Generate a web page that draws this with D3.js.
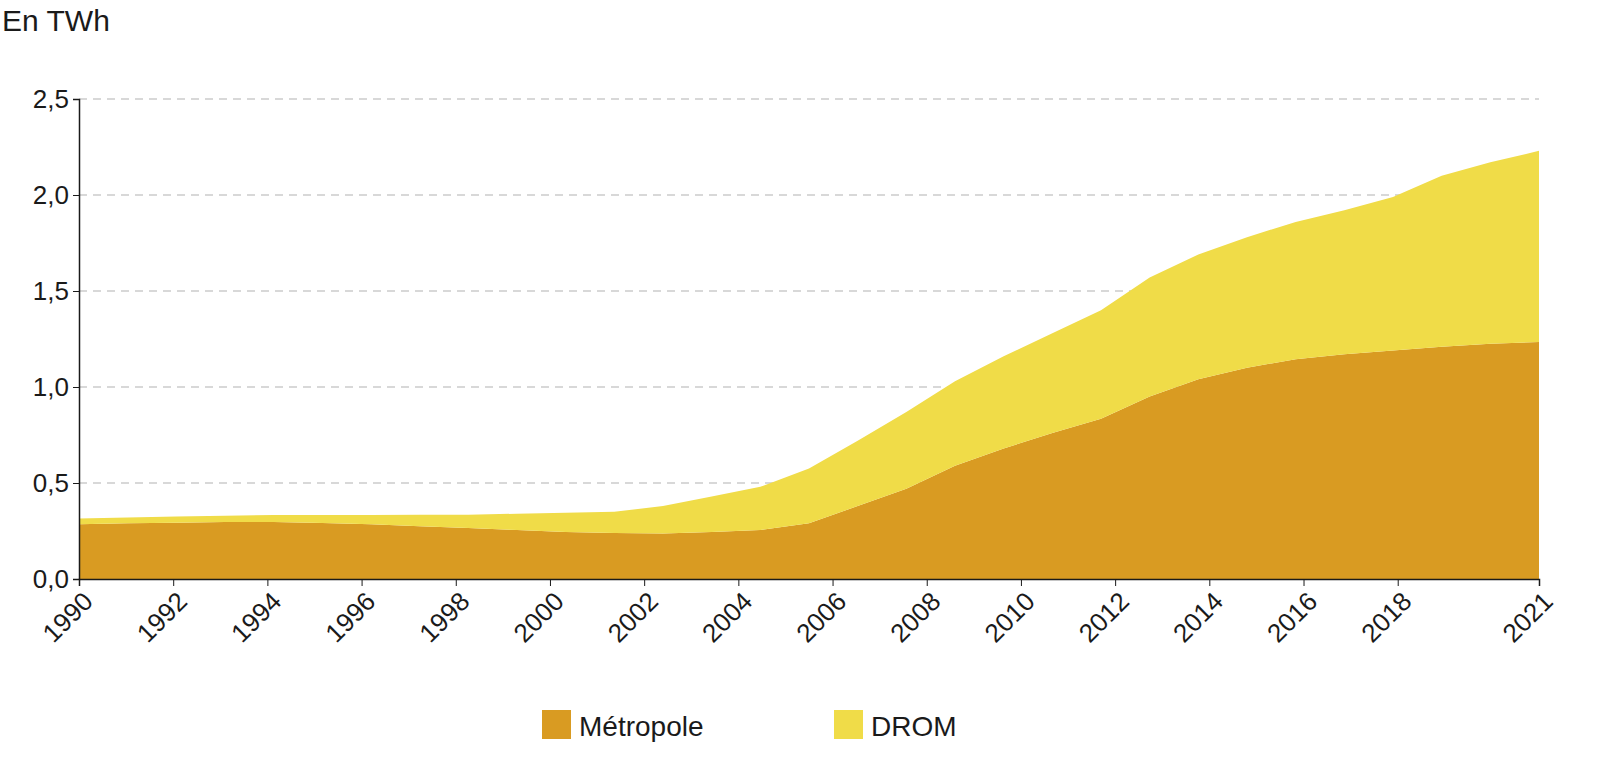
<!DOCTYPE html><html><head><meta charset="utf-8">
<script src="https://cdn.jsdelivr.net/npm/d3@7"></script>
<style>body{margin:0;background:#fff}text{font-family:"Liberation Sans",Arial,sans-serif;fill:#1a1a1a}</style></head><body>
<svg id="c" width="1600" height="781"></svg>
<script>
const pointIndex = d3.range(31);
const metropole = [0.285,0.29,0.293,0.297,0.297,0.292,0.285,0.275,0.265,0.255,0.245,0.24,0.237,0.245,0.255,0.29,0.38,0.47,0.59,0.68,0.76,0.835,0.95,1.04,1.10,1.145,1.17,1.19,1.21,1.225,1.235];
const drom = [0.03,0.03,0.032,0.033,0.036,0.041,0.048,0.06,0.07,0.085,0.10,0.11,0.143,0.185,0.225,0.285,0.34,0.40,0.44,0.48,0.52,0.565,0.62,0.65,0.68,0.715,0.75,0.80,0.89,0.945,0.995];
const yearTicks = [1990,1992,1994,1996,1998,2000,2002,2004,2006,2008,2010,2012,2014,2016,2018,2021];
const yTicks = [0,0.5,1,1.5,2,2.5];
const fmt = v => d3.format(".1f")(v).replace(".", ",");

const svg = d3.select("#c");
const L=79,R=1539,T=99,B=579;
const xi = d3.scaleLinear().domain([0,30]).range([L,R]);
const xy = d3.scaleLinear().domain([1990,2021]).range([L,R]);
const y = d3.scaleLinear().domain([0,2.5]).range([B,T]);

svg.append("g").selectAll("line").data(yTicks.slice(1)).join("line")
 .attr("x1",L).attr("x2",R).attr("y1",d=>y(d)).attr("y2",d=>y(d))
 .attr("stroke","#cccccc").attr("stroke-width",1.5).attr("stroke-dasharray","8,6");

const rows = pointIndex.map(i=>({i,m:metropole[i],d:drom[i]}));
const stack = d3.stack().keys(["m","d"])(rows);
const colors = {m:"#D99B22",d:"#F0DC48"};
const area = d3.area().x(p=>xi(p.data.i)).y0(p=>y(p[0])).y1(p=>y(p[1]));
svg.append("g").selectAll("path").data(stack).join("path")
 .attr("d",area).attr("fill",s=>colors[s.key]);

const ya = svg.append("g").attr("transform",`translate(${L},0)`)
 .call(d3.axisLeft(y).tickValues(yTicks).tickFormat(fmt).tickSize(6));
ya.select(".domain").attr("stroke","#1a1a1a").attr("stroke-width",1.5);
ya.selectAll("line").attr("stroke","#1a1a1a");
ya.selectAll("text").style("font-size","26px").attr("x",-10);

const xa = svg.append("g").attr("transform",`translate(0,${B})`)
 .call(d3.axisBottom(xy).tickValues(yearTicks).tickFormat(d3.format("d")).tickSize(7));
xa.select(".domain").attr("stroke","#1a1a1a").attr("stroke-width",1.5);
xa.selectAll("line").attr("stroke","#1a1a1a");
xa.selectAll("text").style("font-size","26px").attr("text-anchor","end")
 .attr("dy",0).attr("y",0).attr("transform","translate(15,24) rotate(-45)");

svg.append("text").attr("x",2).attr("y",31).text("En TWh").style("font-size","30px");

const leg=[["Métropole","m",542],["DROM","d",834]];
leg.forEach(([t,k,x])=>{
 svg.append("rect").attr("x",x).attr("y",710).attr("width",29).attr("height",29).attr("fill",colors[k]);
 svg.append("text").attr("x",x+37).attr("y",736).text(t).style("font-size","28px");
});
</script></body></html>
